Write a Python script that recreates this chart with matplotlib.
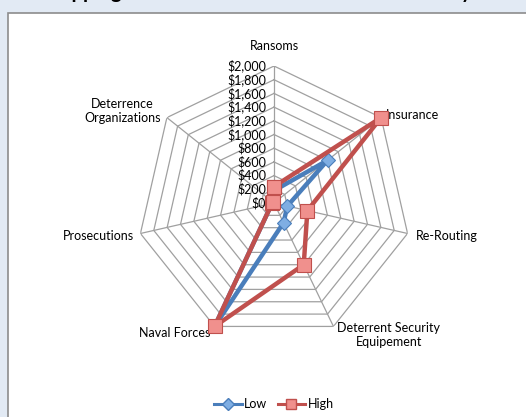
import numpy as np
import matplotlib
matplotlib.use("Agg")
import matplotlib.pyplot as plt
from matplotlib.patches import Rectangle
from matplotlib.lines import Line2D
from matplotlib.transforms import offset_copy

plt.rcParams['font.family'] = ['Lato', 'DejaVu Sans']

# Cost categories (clockwise from the top) and the two estimates, in $ millions
categories = ["Ransoms", "Insurance", "Re-Routing", "Deterrent Security\nEquipement",
              "Naval Forces", "Prosecutions", "Deterrence\nOrganizations"]
low_values = [180, 1000, 200, 320, 2000, 30, 20]
high_values = [240, 2000, 500, 1000, 2000, 30, 20]
tick_values = list(range(0, 2001, 200))
tick_labels = ["$0", "$200", "$400", "$600", "$800", "$1,000", "$1,200",
               "$1,400", "$1,600", "$1,800", "$2,000"]
title = "Shipping Costs Associated with Maritime Piracy"

W, H = 526, 417
fig = plt.figure(figsize=(W / 100, H / 100), dpi=100)
fig.patch.set_facecolor("#E2EAF4")

# white chart area with grey frame
fig.patches.append(Rectangle((8 / W, -0.1), 1.2, 1 - 13 / H + 0.1, transform=fig.transFigure,
                             facecolor="white", edgecolor="#8C8C8C", linewidth=1.2, zorder=-5))

fig.text(0.49, 1.0 + 2.5 / H, title, ha="center", va="baseline", fontsize=14.5,
         fontweight="bold", color="black")

cx, cy, R = 274, 203, 137
ax = fig.add_axes([(cx - R) / W, (H - cy - R) / H, 2 * R / W, 2 * R / H], projection="polar")
ax.set_zorder(2)
ax.set_theta_offset(np.pi / 2)
ax.set_theta_direction(-1)
ax.set_ylim(0, 2000)
ax.grid(False)
ax.set_xticks([])
ax.set_yticks([])
ax.spines["polar"].set_visible(False)
ax.patch.set_alpha(0)

n = len(categories)
angles = np.arange(n) * 2 * np.pi / n
closed = np.append(angles, angles[0])

# polygonal grid rings and spokes
grid_c = "#A0A0A0"
for v in tick_values[1:]:
    ax.plot(closed, [v] * (n + 1), color=grid_c, lw=0.9, zorder=1)
for a in angles:
    ax.plot([a, a], [0, 2000], color=grid_c, lw=0.9, zorder=1)

# value labels along the Ransoms spoke
lab_tr = offset_copy(ax.transData, fig=fig, x=-8, y=0, units="dots")
for v, t in zip(tick_values, tick_labels):
    ax.text(0, v, t, transform=lab_tr, ha="right", va="center", fontsize=9, color="black")

# category labels
offsets = [(0, 14, "center", "bottom"), (5, 3, "left", "center"), (8, -3, "left", "center"),
           (4, -9, "left", "center"), (-4, -7, "right", "center"), (-6, -3, "right", "center"),
           (-6, 7, "right", "center")]
for a, c, (dx, dy, ha, va) in zip(angles, categories, offsets):
    tr = offset_copy(ax.transData, fig=fig, x=dx, y=dy, units="dots")
    ax.text(a, 2000, c, transform=tr, ha=ha, va=va, fontsize=9, color="black",
            multialignment="center" if "\n" in c else ha)

blue, blue_face = "#4A7EBB", "#7FAEE3"
red, red_face = "#C0504D", "#F0908D"
ax.plot(closed, low_values + low_values[:1], color=blue, lw=3.2, marker="D",
        markersize=7.5, markerfacecolor=blue_face, markeredgecolor=blue,
        markeredgewidth=0.8, zorder=3, clip_on=False)
ax.plot(closed, high_values + high_values[:1], color=red, lw=3.2, marker="s",
        markersize=10.5, markerfacecolor=red_face, markeredgecolor=red,
        markeredgewidth=0.8, zorder=4, clip_on=False)

handles = [Line2D([], [], color=blue, lw=2.2, marker="D", markersize=6,
                  markerfacecolor=blue_face, markeredgecolor=blue),
           Line2D([], [], color=red, lw=2.2, marker="s", markersize=7,
                  markerfacecolor=red_face, markeredgecolor=red)]
fig.legend(handles, ["Low", "High"], loc="center", bbox_to_anchor=(274 / W, 1 - 404 / H),
           ncol=2, frameon=False, fontsize=9, handlelength=2.2, handletextpad=0.2,
           columnspacing=0.8)

fig.savefig("out.png", dpi=100, facecolor=fig.get_facecolor())
